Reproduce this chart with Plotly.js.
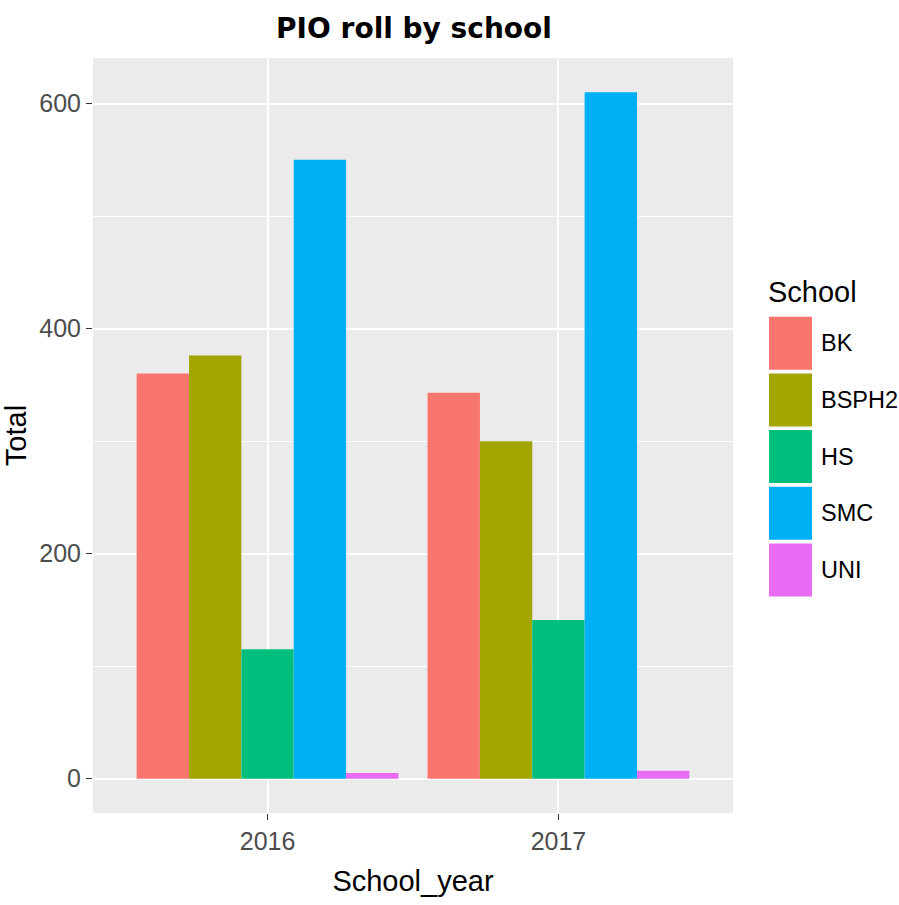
<!DOCTYPE html>
<html>
<head>
<meta charset="utf-8">
<script src="https://cdn.plot.ly/plotly-3.0.1.min.js"></script>
<style>html,body{margin:0;padding:0;background:#fff;}</style>
</head>
<body>
<div id="chart" style="width:899px;height:905px;"></div>
<script>
const years = ['2016', '2017'];
const schools = ['BK', 'BSPH2', 'HS', 'SMC', 'UNI'];
const colors = ['#F8766D', '#A3A500', '#00BF7D', '#00B0F6', '#E76BF3'];
const BK = [360, 343];
const BSPH2 = [376, 300];
const HS = [115, 141];
const SMC = [550, 610];
const UNI = [5, 7];
const values = [BK, BSPH2, HS, SMC, UNI];
const yTicks = [0, 200, 400, 600];

const FONT = '"Liberation Sans", Arial, sans-serif';

const traces = schools.map((s, i) => ({
  type: 'bar',
  name: s,
  x: years,
  y: values[i],
  marker: {color: colors[i], line: {width: 0}},
  showlegend: false,
  hoverinfo: 'x+y+name'
}));

const L = 93, R = 166, T = 58, B = 92, W = 899, H = 905;
const pw = W - L - R, ph = H - T - B;
const px = x => (x - L) / pw;
const py = y => (H - B - y) / ph;

const shapes = [];
const annotations = [];
const keyTop = 316.7, pitch = 56.7, keyH = 53;
schools.forEach((s, i) => {
  const y0 = keyTop + i * pitch;
  shapes.push({
    type: 'rect', xref: 'paper', yref: 'paper',
    x0: px(769), x1: px(812), y0: py(y0 + keyH), y1: py(y0),
    fillcolor: colors[i], line: {width: 0}
  });
  annotations.push({
    xref: 'paper', yref: 'paper', x: px(819), y: py(y0 + keyH / 2),
    xanchor: 'left', yanchor: 'middle', showarrow: false, text: s,
    font: {family: FONT, size: 23.5, color: '#000000'}
  });
});
annotations.push({
  xref: 'paper', yref: 'paper', x: px(766), y: py(292),
  xanchor: 'left', yanchor: 'middle', showarrow: false, text: 'School',
  font: {family: FONT, size: 29, color: '#000000'}
});

const layout = {
  width: W, height: H,
  margin: {l: L, r: R, t: T, b: B, pad: 0},
  paper_bgcolor: '#ffffff',
  plot_bgcolor: '#EBEBEB',
  barmode: 'group',
  bargap: 0.1,
  bargroupgap: 0,
  showlegend: false,
  title: {
    text: 'PIO roll by school',
    xref: 'container', x: 414 / W, xanchor: 'center',
    yref: 'container', y: 1 - 28 / H, yanchor: 'middle',
    font: {family: '"DejaVu Sans", sans-serif', size: 28, color: '#000000', weight: 'bold'}
  },
  xaxis: {
    type: 'category',
    range: [-0.6, 1.6],
    showgrid: true, gridcolor: '#ffffff', gridwidth: 2,
    zeroline: false, showline: false,
    ticks: 'outside', ticklen: 6, tickwidth: 1.5, tickcolor: '#333333',
    tickfont: {family: FONT, size: 25, color: '#4D4D4D'},
    title: {text: 'School_year', standoff: 16, font: {family: FONT, size: 29, color: '#000000'}},
    automargin: false
  },
  yaxis: {
    range: [-30.5, 640.5],
    tickvals: yTicks,
    ticktext: yTicks.map(String),
    showgrid: true, gridcolor: '#ffffff', gridwidth: 2,
    minor: {dtick: 100, tick0: 0, showgrid: true, gridcolor: '#ffffff', gridwidth: 1, ticks: ''},
    zeroline: false, showline: false,
    ticks: 'outside', ticklen: 6, tickwidth: 1.5, tickcolor: '#333333',
    tickfont: {family: FONT, size: 25, color: '#4D4D4D'},
    title: {text: 'Total', standoff: 10, font: {family: FONT, size: 29, color: '#000000'}},
    automargin: false
  },
  shapes: shapes,
  annotations: annotations
};

Plotly.newPlot('chart', traces, layout, {displayModeBar: false, staticPlot: true});
</script>
</body>
</html>
